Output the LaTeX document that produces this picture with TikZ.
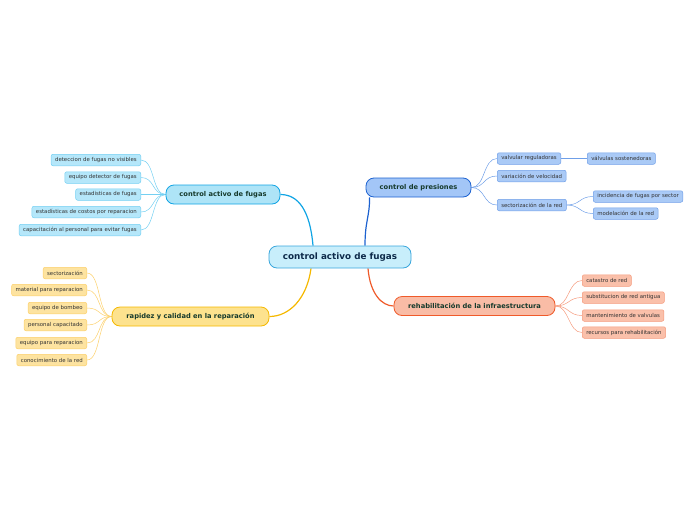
\documentclass[tikz,border=0pt]{standalone}
\usepackage{fontspec}
\setmainfont{DejaVu Sans}
\usepackage{xcolor}
\usetikzlibrary{backgrounds}

\definecolor{zfill}{HTML}{C8EEFB}
\definecolor{zline}{HTML}{3AA6DC}
\definecolor{ztext}{HTML}{0D2A4A}
\definecolor{btext}{HTML}{163A2C}
\definecolor{ltext}{HTML}{333333}
\definecolor{cyfill}{HTML}{AEE4F7}
\definecolor{cyline}{HTML}{10A4E4}
\definecolor{cylf}{HTML}{B5E7FA}
\definecolor{cyll}{HTML}{74D0F2}
\definecolor{blfill}{HTML}{A3C6F7}
\definecolor{blline}{HTML}{1D62D0}
\definecolor{bllf}{HTML}{AACAF6}
\definecolor{blll}{HTML}{6F9FE8}
\definecolor{gefill}{HTML}{FDE28E}
\definecolor{geline}{HTML}{F5B800}
\definecolor{gelf}{HTML}{FDE3A0}
\definecolor{gell}{HTML}{FCD06A}
\definecolor{rofill}{HTML}{F9BCA6}
\definecolor{roline}{HTML}{EF5A2A}
\definecolor{rolf}{HTML}{FAC0AA}
\definecolor{roll}{HTML}{F59A7C}

\tikzset{
  zentrum/.style={draw=zline, fill=zfill, rounded corners=8pt, line width=0.8pt,
    minimum width=142pt, minimum height=22pt, text=ztext, font=\fontsize{8.8}{10}\selectfont\bfseries},
  ast/.style={rounded corners=8pt, line width=0.8pt, minimum height=19pt,
    text=btext, font=\fontsize{6.7}{8}\selectfont\bfseries},
  blatt/.style={rounded corners=2pt, line width=0.5pt, minimum height=11.5pt,
    inner xsep=4pt, inner ysep=0pt, text=ltext, font=\fontsize{5.4}{6}\selectfont},
  cyblatt/.style={blatt, draw=cyll, fill=cylf},
  blblatt/.style={blatt, draw=blll, fill=bllf},
  geblatt/.style={blatt, draw=gell, fill=gelf},
  roblatt/.style={blatt, draw=roll, fill=rolf},
  kante/.style={line width=0.5pt}
}

\begin{document}
\begin{tikzpicture}[x=1pt, y=-1pt]
  \useasboundingbox (0,0) rectangle (696,520);
  % Zentrum
  \node[zentrum] (c) at (340,257) {control activo de fugas};
  % Aeste
  \node[ast, draw=cyline, fill=cyfill, minimum width=114pt] (b1) at (223,194.5) {control activo de fugas};
  \node[ast, draw=blline, fill=blfill, minimum width=105pt] (b2) at (418.5,187.5) {control de presiones};
  \node[ast, draw=geline, fill=gefill, minimum width=157pt] (b3) at (190.5,316.5) {rapidez y calidad en la reparación};
  \node[ast, draw=roline, fill=rofill, minimum width=161pt] (b4) at (474.5,306) {rehabilitación de la infraestructura};
  % Blaetter links oben
  \node[cyblatt, anchor=east] (l11) at (141,160) {deteccion de fugas no visibles};
  \node[cyblatt, anchor=east] (l12) at (141,177.5) {equipo detector de fugas};
  \node[cyblatt, anchor=east] (l13) at (141,194.5) {estadisticas de fugas};
  \node[cyblatt, anchor=east] (l14) at (141,212) {estadísticas de costos por reparacion};
  \node[cyblatt, anchor=east] (l15) at (141,230) {capacitación al personal para evitar fugas};
  % Blaetter rechts oben
  \node[blblatt, anchor=west] (l21) at (497,158.5) {valvular reguladoras};
  \node[blblatt, anchor=west] (l22) at (587,158.5) {válvulas sostenedoras};
  \node[blblatt, anchor=west] (l23) at (497,176) {variación de velocidad};
  \node[blblatt, anchor=west] (l24) at (497,205) {sectorización de la red};
  \node[blblatt, anchor=west] (l25) at (593,196.5) {incidencia de fugas por sector};
  \node[blblatt, anchor=west] (l26) at (593,213.5) {modelación de la red};
  % Blaetter links unten
  \node[geblatt, anchor=east] (l31) at (87,273) {sectorización};
  \node[geblatt, anchor=east] (l32) at (87,290) {material para reparacion};
  \node[geblatt, anchor=east] (l33) at (87,308) {equipo de bombeo};
  \node[geblatt, anchor=east] (l34) at (87,325) {personal capacitado};
  \node[geblatt, anchor=east] (l35) at (87,343) {equipo para reparacion};
  \node[geblatt, anchor=east] (l36) at (87,360) {conocimiento de la red};
  % Blaetter rechts unten
  \node[roblatt, anchor=west] (l41) at (582,280.5) {catastro de red};
  \node[roblatt, anchor=west] (l42) at (582,297.5) {substitucion de red antigua};
  \node[roblatt, anchor=west] (l43) at (582,315.5) {mantenimiento de valvulas};
  \node[roblatt, anchor=west] (l44) at (582,332.5) {recursos para rehabilitación};
  % Kanten
  \begin{scope}[on background layer]
    \draw[cyline, line width=1.2pt] ([xshift=-27pt]c.north) .. controls +(-3,-35) and +(18,0) .. (b1.east);
    \draw[blline, line width=1.2pt] ([xshift=25pt]c.north) .. controls +(0,-25) and +(0,20) .. ([xshift=4pt]b2.south west);
    \draw[geline, line width=1.2pt] ([xshift=-29pt]c.south) .. controls +(-4,30) and +(20,0) .. (b3.east);
    \draw[roline, line width=1.2pt] ([xshift=28pt]c.south) .. controls +(2,25) and +(-12,0) .. (b4.west);
    \foreach \l in {l11,l12,l13,l14,l15}
      \draw[kante, cyll] (b1.west) .. controls +(-14,0) and +(14,0) .. (\l.east);
    \foreach \l in {l21,l23,l24}
      \draw[kante, blll] (b2.east) .. controls +(14,0) and +(-14,0) .. (\l.west);
    \draw[kante, blll] (l21.east) -- (l22.west);
    \foreach \l in {l25,l26}
      \draw[kante, blll] (l24.east) .. controls +(14,0) and +(-14,0) .. (\l.west);
    \foreach \l in {l31,l32,l33,l34,l35,l36}
      \draw[kante, gell] (b3.west) .. controls +(-14,0) and +(14,0) .. (\l.east);
    \foreach \l in {l41,l42,l43,l44}
      \draw[kante, roll] (b4.east) .. controls +(14,0) and +(-14,0) .. (\l.west);
  \end{scope}
\end{tikzpicture}
\end{document}
